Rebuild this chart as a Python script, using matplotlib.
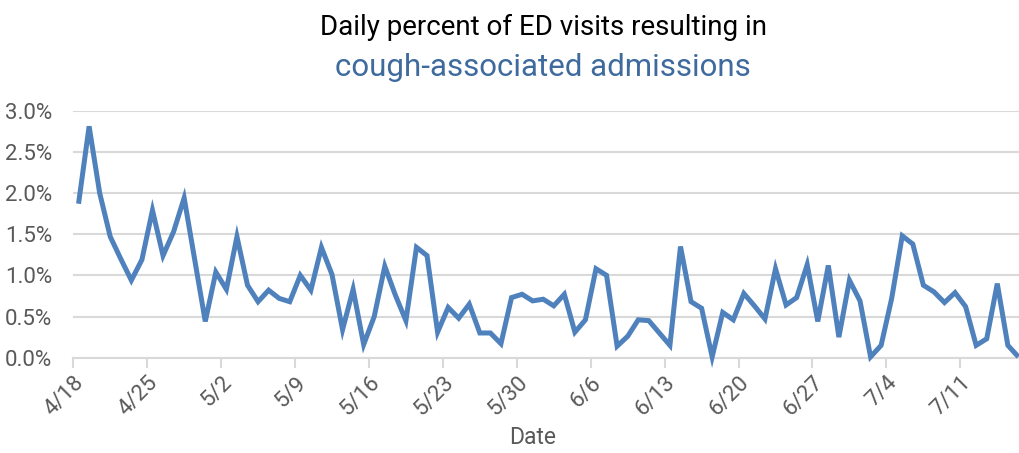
import matplotlib
matplotlib.use("Agg")
import matplotlib.pyplot as plt
import matplotlib.transforms as mtrans
import numpy as np
import pandas as pd

LINE_COLOR = '#4F81BD'
GRID_COLOR = '#D9D9D9'
TEXT_GRAY = '#595959'
TITLE_BLUE = '#3E6A9E'

# daily percent of ED visits, 4/18 .. 7/16
dates = pd.date_range('2020-04-18', '2020-07-16', freq='D')
pct = [1.87, 2.81, 2.00, 1.47, 1.20, 0.94, 1.19, 1.79, 1.24, 1.53,
       1.94, 1.19, 0.44, 1.04, 0.83, 1.47, 0.88, 0.68, 0.82, 0.72,
       0.68, 1.00, 0.82, 1.34, 1.01, 0.34, 0.83, 0.16, 0.50, 1.11,
       0.76, 0.45, 1.34, 1.24, 0.31, 0.61, 0.48, 0.65, 0.30, 0.30,
       0.17, 0.73, 0.77, 0.69, 0.71, 0.63, 0.77, 0.31, 0.46, 1.08,
       1.00, 0.14, 0.26, 0.46, 0.45, 0.30, 0.15, 1.35, 0.68, 0.60,
       0.01, 0.55, 0.46, 0.78, 0.63, 0.47, 1.08, 0.64, 0.73, 1.13,
       0.44, 1.12, 0.25, 0.94, 0.69, 0.01, 0.15, 0.72, 1.48, 1.38,
       0.88, 0.80, 0.67, 0.79, 0.62, 0.15, 0.23, 0.90, 0.15, 0.01]
yticks = [0.0, 0.5, 1.0, 1.5, 2.0, 2.5, 3.0]

plt.rcParams['font.family'] = ['Roboto', 'DejaVu Sans']

fig = plt.figure(figsize=(10.19, 4.53), dpi=100)
ax = fig.add_axes((0.0719, 0.2104, 0.9327, 0.5453))

x = np.arange(len(pct))
ax.plot(x, pct, color=LINE_COLOR, lw=3.6, solid_joinstyle='miter',
        solid_capstyle='butt', clip_on=False, zorder=3)

ax.set_xlim(-0.5, len(pct) - 0.5)
ax.set_ylim(0, 3.0)
ax.set_yticks(yticks)
ax.set_yticklabels([f'{v:.1f}%' for v in yticks])
ax.yaxis.grid(True, color=GRID_COLOR, lw=1.5)
ax.set_axisbelow(True)

tick_pos = np.arange(0, len(pct), 7) - 0.5
ax.set_xticks(tick_pos)
ax.set_xticklabels([f'{dates[i].month}/{dates[i].day}' for i in range(0, len(pct), 7)],
                   rotation=45, ha='right', va='top', rotation_mode='anchor')
offset = mtrans.ScaledTranslation(11 / 100, -7 / 100, fig.dpi_scale_trans)
for lab in ax.get_xticklabels():
    lab.set_transform(lab.get_transform() + offset)

for s in ['top', 'right', 'left']:
    ax.spines[s].set_visible(False)
ax.spines['bottom'].set_color(GRID_COLOR)
ax.spines['bottom'].set_linewidth(1.5)
ax.tick_params(axis='x', colors=GRID_COLOR, length=7, width=1.5, labelcolor=TEXT_GRAY,
               labelsize=16)
ax.tick_params(axis='y', length=0, labelcolor=TEXT_GRAY, labelsize=16, pad=15)

fig.text(533 / 1019, 1 - 438 / 453, 'Date', ha='center', va='center',
         color=TEXT_GRAY, fontsize=16.5)
fig.text(543 / 1019, 1 - 27 / 453, 'Daily percent of ED visits resulting in',
         ha='center', va='center', color='black', fontsize=20)
fig.text(543 / 1019, 1 - 67 / 453, 'cough-associated admissions',
         ha='center', va='center', color=TITLE_BLUE, fontsize=22.5)

fig.savefig('out.png', dpi=100)
